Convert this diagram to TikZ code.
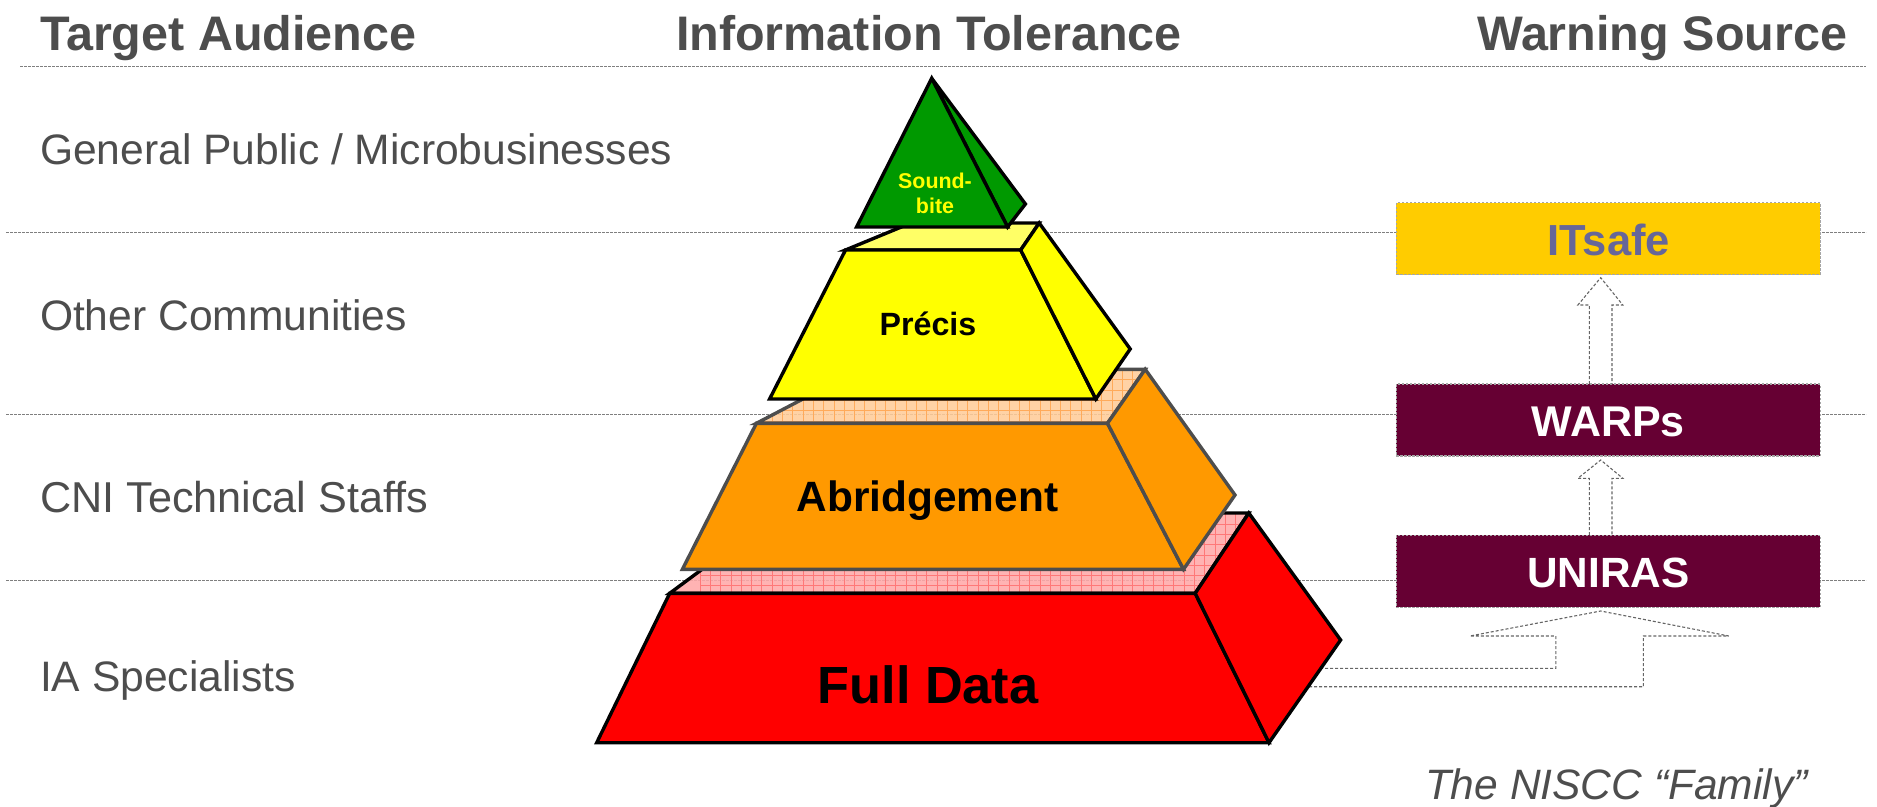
\documentclass[tikz,border=0pt]{standalone}
\usepackage{fontspec}
\setmainfont{Liberation Sans}
\definecolor{txt}{HTML}{4D4D4D}
\definecolor{rulegray}{HTML}{7F7F7F}
\definecolor{wine}{HTML}{660033}
\definecolor{gold}{HTML}{FFCC00}
\definecolor{slate}{HTML}{666699}
\definecolor{orng}{HTML}{FF9900}
\definecolor{grn}{HTML}{009900}
\definecolor{pyell}{HTML}{FFFF00}
\definecolor{pyelltop}{HTML}{FFFF66}
\definecolor{pred}{HTML}{FF0000}
\definecolor{redtop}{HTML}{FFA8A8}
\definecolor{redgrid}{HTML}{FF7878}
\definecolor{orngtop}{HTML}{FFCC99}
\definecolor{ornggrid}{HTML}{FFAA5A}
\newcommand{\fsz}[1]{\fontsize{#1}{#1}\selectfont}
\newcommand{\gridface}[3]{%
  \fill[#2,fill opacity=.88] #1;
  \begin{scope}
    \clip #1;
    \foreach \gx in {700,710.3,...,1290} \draw[#3,line width=.8pt] (\gx,360)--(\gx,600);
    \foreach \gy in {369.5,379.8,...,600} \draw[#3,line width=.8pt] (700,\gy)--(1290,\gy);
  \end{scope}
}
\tikzset{
  x=1pt,y=-1pt,
  rulerline/.style={rulegray,line width=1.5pt,dash pattern=on 2.6pt off 1.4pt},
  blockarrow/.style={rulegray!80!black,line width=1.1pt,dash pattern=on 3pt off 2pt,line join=miter},
  label/.style={anchor=base west,inner sep=0pt,outer sep=0pt,text=txt},
  heading/.style={label,font=\fsz{48.5}\bfseries},
  audience/.style={label,font=\fsz{42.6}},
  family/.style={label,font=\fsz{42.5}\itshape},
  ptext/.style={anchor=base,inner sep=0pt,outer sep=0pt,text=black,font=\bfseries},
  srcbox/.style={minimum width=424pt,minimum height=72pt,inner sep=0pt,outer sep=0pt,draw=rulegray!70,line width=1.1pt,dash pattern=on 2.5pt off 1.5pt},
  srctext/.style={anchor=base,inner sep=0pt,outer sep=0pt},
  blk/.style={draw=black,line width=3.4pt,line join=miter},
  gry/.style={draw=txt,line width=3.4pt,line join=miter},
}
\begin{document}
\begin{tikzpicture}
\useasboundingbox (0,0) rectangle (1877,806);
% rules
\draw[rulerline] (20,66.7)--(1866,66.7);
\draw[rulerline] (6,232.3)--(1866,232.3);
\draw[rulerline] (6,414.3)--(1866,414.3);
\draw[rulerline] (6,580.7)--(1866,580.7);
% headings and audiences
\node[heading] (h1) at (40,50.5) {Target Audience};
\node[heading] (h2) at (676,50.5) {Information Tolerance};
\node[heading] (h3) at (1477,50.5) {Warning Source};
\node[audience] (a1) at (40,164.5) {General Public / Microbusinesses};
\node[audience] (a2) at (40,330.5) {Other Communities};
\node[audience,font=\fsz{43.2}] (a3) at (40,512) {CNI Technical Staffs};
\node[audience] (a4) at (40,691) {IA Specialists};
\node[family] (fam) at (1425,799.5) {The NISCC “Family”};
% big arrow
\draw[blockarrow] (1290,668.3)--(1555.8,668.3)--(1555.8,636)--(1470,636)--(1600.7,611)--(1728.8,636)--(1643.4,636)--(1643.4,686.7)--(1290,686.7);
% full data
\gridface{(669.7,593.3)--(778,513)--(1248.8,513)--(1195.2,593.3)--cycle}{redtop}{redgrid}
\draw[blk] (669.7,593.3)--(778,513)--(1248.8,513)--(1195.2,593.3)--cycle;
\filldraw[blk,fill=pred] (669.7,593.3)--(1195.2,593.3)--(1269,742.7)--(596.7,742.7)--cycle;
\filldraw[blk,fill=pred] (1195.2,593.3)--(1248.8,513)--(1340.6,640)--(1269,742.7)--cycle;
\node[ptext,font=\fsz{52.3}\bfseries] (full) at (928,703) {Full Data};
% abridgement
\gridface{(756.4,423.3)--(859.7,369.3)--(1145.2,369.3)--(1107.5,423.3)--cycle}{orngtop}{ornggrid}
\draw[gry] (756.4,423.3)--(859.7,369.3)--(1145.2,369.3)--(1107.5,423.3)--cycle;
\filldraw[gry,fill=orng] (756.4,423.3)--(1107.5,423.3)--(1183.5,569.3)--(682.4,569.3)--cycle;
\filldraw[gry,fill=orng] (1107.5,423.3)--(1145.2,369.3)--(1235,495)--(1183.5,569.3)--cycle;
\node[ptext,font=\fsz{42.4}\bfseries] (abr) at (927.5,511.5) {Abridgement};
% precis
\filldraw[blk,fill=pyelltop] (845.5,250)--(911,223)--(1039.2,223)--(1020.7,250)--cycle;
\filldraw[blk,fill=pyell] (845.5,250)--(1020.7,250)--(1095.8,399)--(769.6,399)--cycle;
\filldraw[blk,fill=pyell] (1020.7,250)--(1039.2,223)--(1130.2,349)--(1095.8,399)--cycle;
\node[ptext,font=\fsz{32.2}\bfseries] (pre) at (928,335.5) {Précis};
% sound-bite
\filldraw[blk,fill=grn] (931.7,78.3)--(1025.4,204)--(1007.6,227)--cycle;
\filldraw[blk,fill=grn] (931.7,78.3)--(1007.6,227)--(856.6,227)--cycle;
\node[ptext,font=\fsz{21.4}\bfseries,text=pyell] (s1) at (935,188.5) {Sound-};
\node[ptext,font=\fsz{21.4}\bfseries,text=pyell] (s2) at (935,213.5) {bite};
% source boxes
\node[srcbox,fill=gold] (its) at (1608.4,238.7) {};
\node[srcbox,fill=wine] (war) at (1608.4,420) {};
\node[srcbox,fill=wine] (uni) at (1608.4,571.2) {};
\node[srctext,text=slate,font=\fsz{43.5}\bfseries] (itst) at (1608.7,255.5) {ITsafe};
\node[srctext,text=white,font=\fsz{43}\bfseries] (wart) at (1608.3,436) {WARPs};
\node[srctext,text=white,font=\fsz{42.3}\bfseries] (unit) at (1608.5,587.5) {UNIRAS};
% block arrows
\draw[blockarrow] (1589.3,384)--(1589.3,305)--(1577.9,305)--(1600.7,277.7)--(1622.8,305)--(1612,305)--(1612,384);
\draw[blockarrow] (1589.3,535)--(1589.3,478.3)--(1577.9,478.3)--(1600.7,460)--(1622.8,478.3)--(1612,478.3)--(1612,535);
\end{tikzpicture}
\end{document}
